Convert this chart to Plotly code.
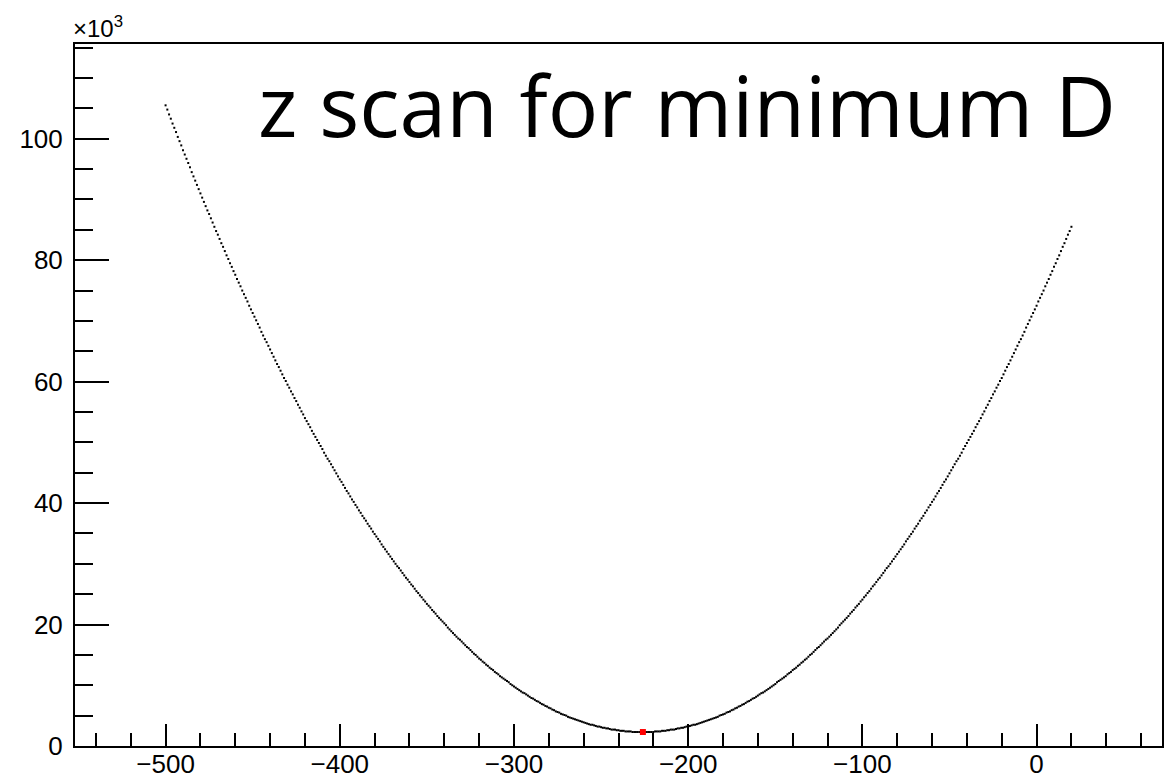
import plotly.graph_objects as go

# z positions of the scan (step of 1 along z)
z_scan = list(range(-500, 21))

# D value at each z position, in units of 10^3
d_values = [
    105.5, 104.8, 104.0, 103.3, 102.5, 101.8, 101.1, 100.3, 99.6, 98.9,
    98.1, 97.4, 96.7, 96.0, 95.3, 94.5, 93.8, 93.1, 92.4, 91.7,
    91.0, 90.3, 89.6, 88.9, 88.2, 87.6, 86.9, 86.2, 85.5, 84.8,
    84.2, 83.5, 82.8, 82.2, 81.5, 80.8, 80.2, 79.5, 78.9, 78.2,
    77.6, 76.9, 76.3, 75.7, 75.0, 74.4, 73.8, 73.2, 72.5, 71.9,
    71.3, 70.7, 70.1, 69.5, 68.9, 68.2, 67.6, 67.0, 66.5, 65.9,
    65.3, 64.7, 64.1, 63.5, 62.9, 62.4, 61.8, 61.2, 60.6, 60.1,
    59.5, 59.0, 58.4, 57.9, 57.3, 56.8, 56.2, 55.7, 55.1, 54.6,
    54.0, 53.5, 53.0, 52.5, 51.9, 51.4, 50.9, 50.4, 49.9, 49.4,
    48.9, 48.3, 47.8, 47.3, 46.9, 46.4, 45.9, 45.4, 44.9, 44.4,
    43.9, 43.5, 43.0, 42.5, 42.0, 41.6, 41.1, 40.6, 40.2, 39.7,
    39.3, 38.8, 38.4, 37.9, 37.5, 37.1, 36.6, 36.2, 35.8, 35.3,
    34.9, 34.5, 34.1, 33.7, 33.2, 32.8, 32.4, 32.0, 31.6, 31.2,
    30.8, 30.4, 30.0, 29.6, 29.3, 28.9, 28.5, 28.1, 27.7, 27.4,
    27.0, 26.6, 26.3, 25.9, 25.5, 25.2, 24.8, 24.5, 24.1, 23.8,
    23.4, 23.1, 22.8, 22.4, 22.1, 21.8, 21.4, 21.1, 20.8, 20.5,
    20.2, 19.9, 19.5, 19.2, 18.9, 18.6, 18.3, 18.0, 17.7, 17.5,
    17.2, 16.9, 16.6, 16.3, 16.1, 15.8, 15.5, 15.2, 15.0, 14.7,
    14.4, 14.2, 13.9, 13.7, 13.4, 13.2, 12.9, 12.7, 12.5, 12.2,
    12.0, 11.8, 11.5, 11.3, 11.1, 10.9, 10.7, 10.5, 10.2, 10.0,
    9.8, 9.6, 9.4, 9.2, 9.0, 8.8, 8.7, 8.5, 8.3, 8.1,
    7.9, 7.8, 7.6, 7.4, 7.3, 7.1, 6.9, 6.8, 6.6, 6.5,
    6.3, 6.2, 6.0, 5.9, 5.7, 5.6, 5.5, 5.3, 5.2, 5.1,
    5.0, 4.8, 4.7, 4.6, 4.5, 4.4, 4.3, 4.2, 4.1, 4.0,
    3.9, 3.8, 3.7, 3.6, 3.5, 3.5, 3.4, 3.3, 3.2, 3.2,
    3.1, 3.0, 3.0, 2.9, 2.9, 2.8, 2.7, 2.7, 2.7, 2.6,
    2.6, 2.5, 2.5, 2.5, 2.4, 2.4, 2.4, 2.4, 2.3, 2.3,
    2.3, 2.3, 2.3, 2.3, 2.3,
    2.3, 2.3, 2.3, 2.3, 2.3, 2.3, 2.4, 2.4, 2.4, 2.4,
    2.5, 2.5, 2.5, 2.6, 2.6, 2.7, 2.7, 2.7, 2.8, 2.9,
    2.9, 3.0, 3.0, 3.1, 3.2, 3.2, 3.3, 3.4, 3.5, 3.5,
    3.6, 3.7, 3.8, 3.9, 4.0, 4.1, 4.2, 4.3, 4.4, 4.5,
    4.6, 4.7, 4.8, 5.0, 5.1, 5.2, 5.3, 5.5, 5.6, 5.7,
    5.9, 6.0, 6.2, 6.3, 6.5, 6.6, 6.8, 6.9, 7.1, 7.3,
    7.4, 7.6, 7.8, 7.9, 8.1, 8.3, 8.5, 8.7, 8.8, 9.0,
    9.2, 9.4, 9.6, 9.8, 10.0, 10.2, 10.5, 10.7, 10.9, 11.1,
    11.3, 11.5, 11.8, 12.0, 12.2, 12.5, 12.7, 12.9, 13.2, 13.4,
    13.7, 13.9, 14.2, 14.4, 14.7, 15.0, 15.2, 15.5, 15.8, 16.1,
    16.3, 16.6, 16.9, 17.2, 17.5, 17.7, 18.0, 18.3, 18.6, 18.9,
    19.2, 19.5, 19.9, 20.2, 20.5, 20.8, 21.1, 21.4, 21.8, 22.1,
    22.4, 22.8, 23.1, 23.4, 23.8, 24.1, 24.5, 24.8, 25.2, 25.5,
    25.9, 26.3, 26.6, 27.0, 27.4, 27.7, 28.1, 28.5, 28.9, 29.3,
    29.6, 30.0, 30.4, 30.8, 31.2, 31.6, 32.0, 32.4, 32.8, 33.2,
    33.7, 34.1, 34.5, 34.9, 35.3, 35.8, 36.2, 36.6, 37.1, 37.5,
    37.9, 38.4, 38.8, 39.3, 39.7, 40.2, 40.6, 41.1, 41.6, 42.0,
    42.5, 43.0, 43.5, 43.9, 44.4, 44.9, 45.4, 45.9, 46.4, 46.9,
    47.3, 47.8, 48.3, 48.9, 49.4, 49.9, 50.4, 50.9, 51.4, 51.9,
    52.5, 53.0, 53.5, 54.0, 54.6, 55.1, 55.7, 56.2, 56.8, 57.3,
    57.9, 58.4, 59.0, 59.5, 60.1, 60.6, 61.2, 61.8, 62.4, 62.9,
    63.5, 64.1, 64.7, 65.3, 65.9, 66.5, 67.0, 67.6, 68.2, 68.9,
    69.5, 70.1, 70.7, 71.3, 71.9, 72.5, 73.2, 73.8, 74.4, 75.0,
    75.7, 76.3, 76.9, 77.6, 78.2, 78.9, 79.5, 80.2, 80.8, 81.5,
    82.2, 82.8, 83.5, 84.2, 84.8, 85.5,
]

# position of the minimum found by the scan
z_min = [-226]
d_min = [2.3]

title_text = "z scan for minimum D"
exponent_text = "×10<sup>3</sup>"

fig = go.Figure()

fig.add_trace(go.Scatter(
    x=z_scan, y=d_values, mode="markers",
    marker=dict(symbol="square", size=2, color="black", line=dict(width=0)),
    hoverinfo="x+y", showlegend=False,
))

fig.add_trace(go.Scatter(
    x=z_min, y=d_min, mode="markers",
    marker=dict(symbol="square", size=6, color="#ff0000", line=dict(width=0)),
    showlegend=False,
))

axis_font = dict(family="Liberation Sans, Arial, sans-serif", size=26, color="black")

fig.update_layout(
    width=1175, height=779,
    margin=dict(l=75, r=13, t=44, b=33),
    paper_bgcolor="white", plot_bgcolor="white",
    xaxis=dict(
        range=[-552, 72], tick0=0, dtick=100, automargin=False,
        ticks="inside", ticklen=22, tickwidth=2, tickcolor="black",
        minor=dict(dtick=20, tick0=0, ticks="inside", ticklen=13,
                   tickwidth=2, tickcolor="black"),
        showline=True, linecolor="black", linewidth=2, mirror=True,
        showgrid=False, zeroline=False, tickfont=axis_font,
        ticklabelstandoff=-6,
    ),
    yaxis=dict(
        range=[0, 115.6], tick0=0, dtick=20, automargin=False,
        ticks="inside", ticklen=34, tickwidth=2, tickcolor="black",
        minor=dict(dtick=5, tick0=0, ticks="inside", ticklen=18,
                   tickwidth=2, tickcolor="black"),
        showline=True, linecolor="black", linewidth=2, mirror=True,
        showgrid=False, zeroline=False, tickfont=axis_font,
        ticklabelstandoff=5,
    ),
    annotations=[
        dict(text=title_text, xref="paper", yref="paper",
             x=(1118 - 75) / 1087, y=1 - (104 - 44) / 702,
             xanchor="right", yanchor="middle", showarrow=False,
             font=dict(family="Open Sans, Noto Sans, sans-serif", size=84, color="black")),
        dict(text=exponent_text, xref="paper", yref="paper",
             x=-0.004, y=1.0, xanchor="left", yanchor="bottom", showarrow=False,
             font=dict(family="Liberation Sans, Arial, sans-serif", size=24, color="black")),
    ],
)

fig.write_html("out.html")
